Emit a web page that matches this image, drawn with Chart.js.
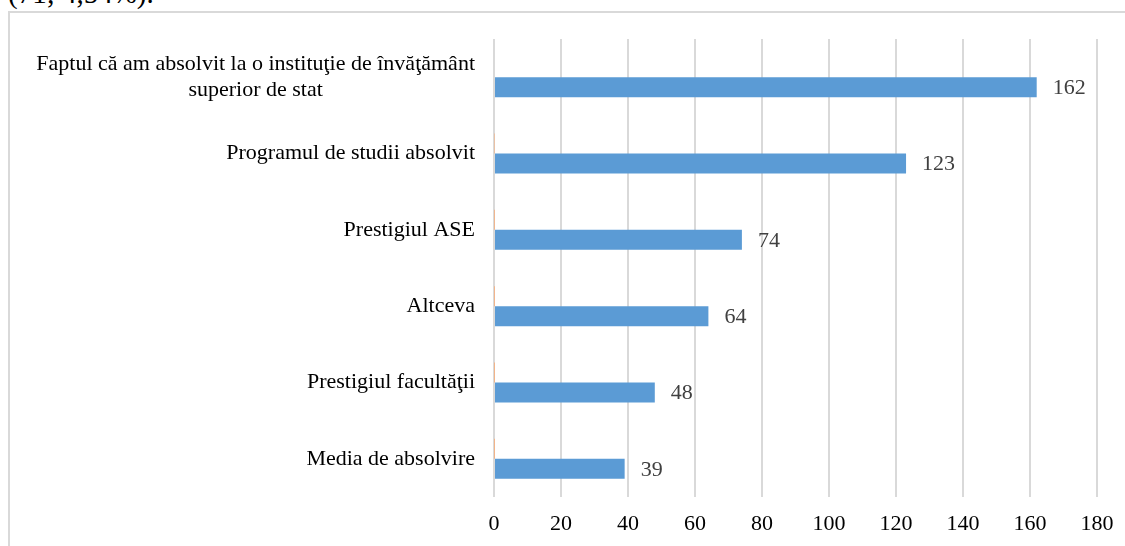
<!DOCTYPE html>
<html>
<head>
<meta charset="utf-8">
<script src="https://cdn.jsdelivr.net/npm/chart.js@4.4.1/dist/chart.umd.min.js"></script>
<style>
    html, body { margin: 0; padding: 0; background: #ffffff; overflow: hidden; }
    #page { position: relative; width: 1125px; height: 546px; overflow: hidden; }
    #caption {
        position: absolute; left: 8px; top: -21px;
        font: 29px "Liberation Serif", "Times New Roman", serif; line-height: 1; color: #000;
        white-space: nowrap;
    }
    #frame {
        position: absolute; left: 8px; top: 11px; width: 1300px; height: 700px;
        border-left: 2px solid #d9d9d9; border-top: 2px solid #d9d9d9;
    }
    #chart { position: absolute; left: 0; top: 0; }
</style>
</head>
<body>
<div id="page">
    <div id="caption">(71; 4,54%).</div>
    <div id="frame"></div>
    <canvas id="chart" width="1125" height="546"></canvas>
</div>
<script>
// Chart data
const categories = [
    ["Faptul că am absolvit la o instituţie de învăţământ", "superior de stat"],
    ["Programul de studii absolvit"],
    ["Prestigiul ASE"],
    ["Altceva"],
    ["Prestigiul facultăţii"],
    ["Media de absolvire"],
];
const responses = [162, 123, 74, 64, 48, 39];
const shareValues = [0.3, 0.12, 0.04, 0.03, 0.02, 0.02];
const xTicks = [0, 20, 40, 60, 80, 100, 120, 140, 160, 180];

const serif = '"Liberation Serif", "Times New Roman", serif';

// draws the category labels (wrapped lines centred on each other, block right-aligned)
const categoryLabels = {
    id: "categoryLabels",
    afterDraw(chart) {
        const ctx = chart.ctx;
        const yScale = chart.scales.y;
        const rightEdge = 475;
        const lineGap = 26;
        ctx.save();
        ctx.font = `22px ${serif}`;
        ctx.fillStyle = "#000000";
        ctx.textAlign = "center";
        ctx.textBaseline = "middle";
        categories.forEach((lines, i) => {
            const center = yScale.getPixelForValue(i);
            const blockWidth = Math.max(...lines.map((line) => ctx.measureText(line).width));
            const x = rightEdge - blockWidth / 2;
            const firstY = center - ((lines.length - 1) * lineGap) / 2;
            lines.forEach((line, j) => ctx.fillText(line, x, firstY + j * lineGap));
        });
        ctx.restore();
    },
};

// value labels after the blue bars
const valueLabels = {
    id: "valueLabels",
    afterDatasetsDraw(chart) {
        const ctx = chart.ctx;
        const meta = chart.getDatasetMeta(1);
        ctx.save();
        ctx.font = `22px ${serif}`;
        ctx.fillStyle = "#404040";
        ctx.textAlign = "left";
        ctx.textBaseline = "middle";
        meta.data.forEach((bar, i) => {
            ctx.fillText(String(responses[i]), bar.x + 16, bar.y + 1);
        });
        ctx.restore();
    },
};

new Chart(document.getElementById("chart").getContext("2d"), {
    type: "bar",
    data: {
        labels: categories,
        datasets: [
            {
                label: "Pondere",
                data: shareValues,
                backgroundColor: "#f4b183",
                categoryPercentage: 0.524,
                barPercentage: 1,
            },
            {
                label: "Număr",
                data: responses,
                backgroundColor: "#5b9bd5",
                categoryPercentage: 0.524,
                barPercentage: 1,
            },
        ],
    },
    options: {
        indexAxis: "y",
        responsive: false,
        animation: false,
        layout: { padding: { top: 39, right: 28, bottom: 0, left: 0 } },
        plugins: {
            legend: { display: false },
            tooltip: { enabled: false },
        },
        scales: {
            x: {
                min: 0,
                max: 180,
                afterBuildTicks: (scale) => {
                    scale.ticks = xTicks.map((value) => ({ value }));
                },
                grid: { color: "#d9d9d9", lineWidth: 2, drawTicks: false },
                border: { display: false },
                ticks: {
                    font: { family: serif, size: 22 },
                    color: "#000000",
                    padding: 14,
                    maxRotation: 0,
                },
                afterFit: (scale) => {
                    scale.height = 49;
                    scale.paddingLeft = 0;
                    scale.paddingRight = 0;
                },
            },
            y: {
                grid: { display: false },
                border: { display: false },
                ticks: { display: false },
                afterFit: (scale) => {
                    scale.width = 494;
                    scale.paddingTop = 0;
                    scale.paddingBottom = 0;
                },
            },
        },
    },
    plugins: [categoryLabels, valueLabels],
});
</script>
</body>
</html>
